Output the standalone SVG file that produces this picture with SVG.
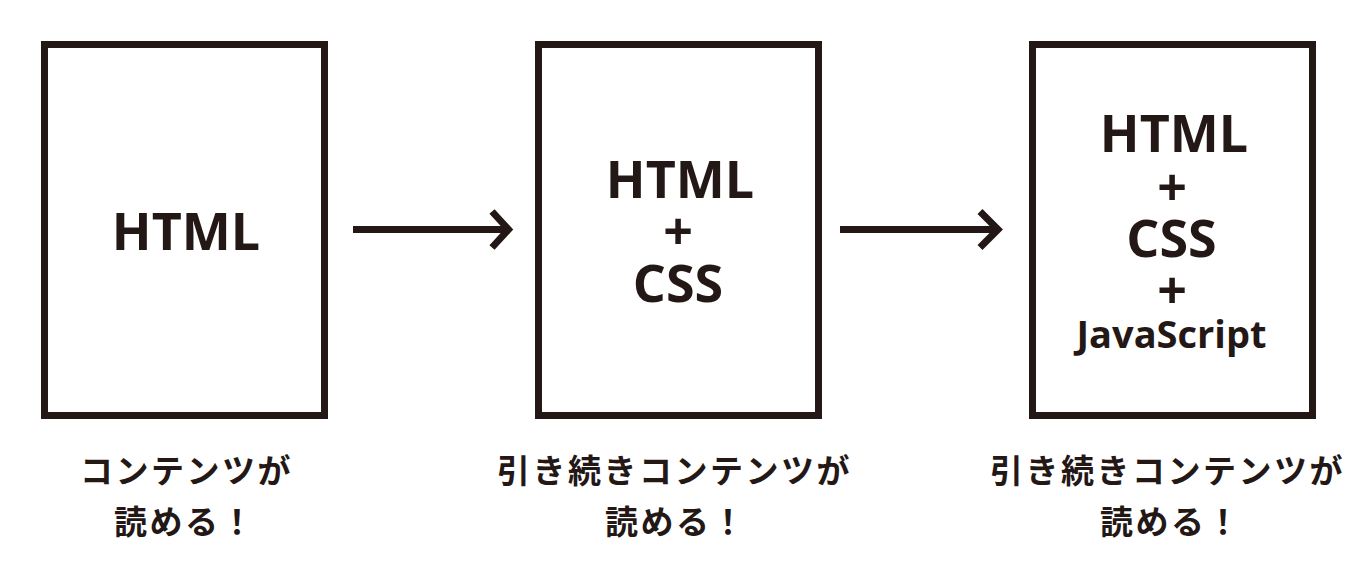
<svg xmlns="http://www.w3.org/2000/svg" width="1361" height="574" viewBox="0 0 1361 574">
<style>
.box{fill:#fff;stroke:#231815;stroke-width:7}
.t{font-family:"Open Sans","Noto Sans","Liberation Sans",sans-serif;font-weight:700;fill:#231815;text-anchor:middle;font-size:52px}
.js{font-size:38px}
.lab{font-family:"Noto Sans CJK JP","Noto Sans",sans-serif;font-weight:700;font-size:33px;letter-spacing:2.5px;fill:#231815}
.ar{fill:none;stroke:#231815;stroke-width:7;stroke-linejoin:miter}
</style>
<rect width="1361" height="574" fill="#fff"/>
<g id="node-html">
<rect class="box" x="44.5" y="44.5" width="280" height="371"/>
<text class="t" x="186" y="250">HTML</text>
<text class="lab" x="80" y="483"><tspan x="80" y="483">コンテンツが</tspan><tspan x="114" y="534">読める！</tspan></text>
</g>
<g id="node-html-css">
<rect class="box" x="538.5" y="44.5" width="280" height="371"/>
<text class="t"><tspan x="680" y="198.3">HTML</tspan><tspan x="678" y="250">+</tspan><tspan x="678" y="301.7">CSS</tspan></text>
<text class="lab"><tspan x="497" y="483">引き続きコンテンツが</tspan><tspan x="605" y="534">読める！</tspan></text>
</g>
<g id="node-html-css-js">
<rect class="box" x="1032.5" y="44.5" width="280" height="371"/>
<text class="t"><tspan x="1174" y="151.7">HTML</tspan><tspan x="1172" y="206">+</tspan><tspan x="1171.5" y="256.7">CSS</tspan><tspan x="1172" y="309">+</tspan><tspan class="js" x="1171.5" y="348">JavaScript</tspan></text>
<text class="lab"><tspan x="990" y="483">引き続きコンテンツが</tspan><tspan x="1100" y="534">読める！</tspan></text>
</g>
<g id="connectors">
<line class="ar" x1="353" y1="229.5" x2="507" y2="229.5"/>
<polyline class="ar" points="492,211.5 508.5,229.5 492,247.5"/>
<line class="ar" x1="840" y1="229.5" x2="997" y2="229.5"/>
<polyline class="ar" points="980,211.5 998,229.5 980,247.5"/>
</g>
</svg>
